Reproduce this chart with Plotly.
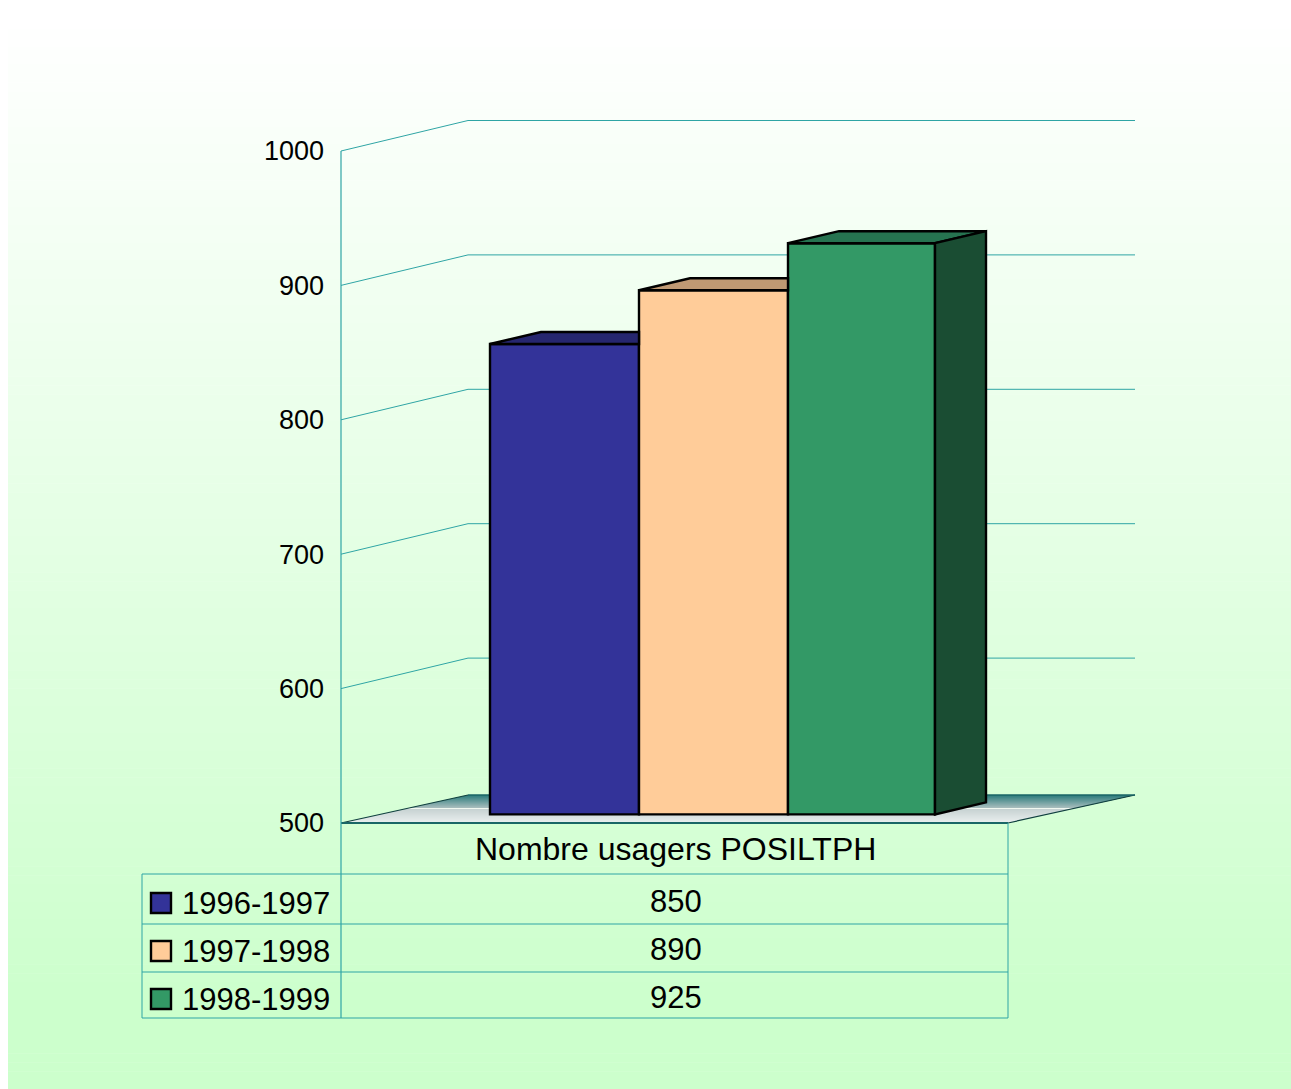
import plotly.graph_objects as go

# ---- data ----
periods = ["1996-1997", "1997-1998", "1998-1999"]
usagers = [850, 890, 925]
category = "Nombre usagers POSILTPH"
tick_values = [500, 600, 700, 800, 900, 1000]
tick_labels = ["500", "600", "700", "800", "900", "1000"]

# ---- styles ----
face = ["#333399", "#FFCC99", "#339966"]
top_face = ["#26266F", "#BF9973", "#267350"]
side_face = "#1A4D33"
TEAL = "#2FA5A5"
EDGE = 2.4
W, H = 1291, 1089

# ---- geometry: x axis runs in page pixels, y axis in data values ----
Y0_PX, Y1_PX = 823.0, 151.0
K = (Y0_PX - Y1_PX) / (tick_values[-1] - tick_values[0])
def val(px):
    return tick_values[0] + (Y0_PX - px) / K

BAR_EDGES = [490, 639, 788, 935]
BAR_LIFT = 8.6 / K        # bars stand a little behind the front edge
DX, DY = 51, 12 / K       # visible depth of a bar

AX_X, BACK_X, END_X, FLOOR_R = 341, 468, 1135, 1008
WALL_DY = 30.5 / K

fig = go.Figure()
shapes = []

def rect_px(x0, x1, y0, y1, color, line=None, lw=0):
    shapes.append(dict(type="rect", layer="below", xref="x", yref="y",
                       x0=x0, x1=x1, y0=val(y0), y1=val(y1), fillcolor=color,
                       line=dict(color=line or color, width=lw)))

def line_px(x0, y0, x1, y1, color=TEAL, w=1):
    shapes.append(dict(type="line", layer="below", xref="x", yref="y",
                       x0=x0, x1=x1, y0=val(y0), y1=val(y1),
                       line=dict(color=color, width=w)))

def mix(a, b, t):
    return "rgb(%d,%d,%d)" % tuple(round(a[i] + (b[i] - a[i]) * t) for i in range(3))

# page background gradient
STEPS = 120
G0 = 20
for i in range(STEPS):
    y0 = G0 + i * (H - G0) / STEPS
    y1 = y0 + (H - G0) / STEPS + 0.5
    rect_px(8, W, y0, y1, mix((255, 255, 255), (204, 255, 204), min(1, (i + .5) / STEPS * 1.08)))

# floor with gradient bands
FB, FF = 795.0, 823.0
N = 28
fx = lambda y: AX_X + (BACK_X - AX_X) * (FF - y) / (FF - FB)
for i in range(N):
    y0 = FB + i * (FF - FB) / N
    y1 = y0 + (FF - FB) / N + 0.4
    t = (y0 - FB) / (FF - FB)
    if t < 0.43:
        c = mix((46, 125, 125), (165, 188, 188), t / 0.43)
    elif t < 0.48:
        c = "rgb(240,248,240)"
    else:
        c = mix((198, 210, 210), (236, 240, 240), (t - .48) / .52)
    shapes.append(dict(type="path", layer="below", xref="x", yref="y",
        path="M%f,%f L%f,%f L%f,%f L%f,%f Z" % (
            fx(y0), val(y0), fx(y0) + END_X - BACK_X, val(y0),
            fx(y1) + END_X - BACK_X, val(y1), fx(y1), val(y1)),
        fillcolor=c, line=dict(width=0)))
line_px(AX_X, FF, BACK_X, FB, "#10403F", 1.2)
line_px(FLOOR_R, FF, END_X, FB, "#10403F", 1.2)
line_px(BACK_X, FB, END_X, FB, "#1A6666", 1.5)
line_px(AX_X, FF, FLOOR_R, FF, "#1A6666", 2)

# walls: grid lines driven by the tick values
for v in tick_values[1:]:
    shapes.append(dict(type="line", layer="below", xref="x", yref="y", x0=AX_X, x1=BACK_X,
                       y0=v, y1=v + WALL_DY, line=dict(color=TEAL, width=1)))
    shapes.append(dict(type="line", layer="below", xref="x", yref="y", x0=BACK_X, x1=END_X,
                       y0=v + WALL_DY, y1=v + WALL_DY, line=dict(color=TEAL, width=1)))

# table frame
T_L, T_TOP, T_BOT = 142, 874, 1018
ROWS = [924, 972]
line_px(AX_X, 151, AX_X, T_BOT, TEAL, 1.2)
line_px(FLOOR_R, FF, FLOOR_R, T_BOT, TEAL, 1)
line_px(T_L, T_TOP, T_L, T_BOT, TEAL, 1)
line_px(T_L, T_TOP, FLOOR_R, T_TOP, TEAL, 1)
line_px(T_L, T_BOT, FLOOR_R, T_BOT, TEAL, 1)
for r in ROWS:
    line_px(T_L, r, FLOOR_R, r, TEAL, 1)

# legend keys + text
ann = []
def text(x, y, s, size, anchor="center"):
    ann.append(dict(x=x, y=val(y), xref="x", yref="y", text=s, showarrow=False,
                    xanchor=anchor, yanchor="middle",
                    font=dict(family="Liberation Sans", size=size, color="#000000")))

ROW_Y = [903, 951, 999]
for i, p in enumerate(periods):
    rect_px(151, 171, ROW_Y[i] - 10, ROW_Y[i] + 10, face[i], "#000000", 2.4)
    text(180, ROW_Y[i], p, 31, "left")
    text(676, ROW_Y[i] - 2, str(usagers[i]), 31)
text(675, 849, category, 32)

# bars, drawn through the axes
for i, p in enumerate(periods):
    x0, x1 = BAR_EDGES[i], BAR_EDGES[i + 1]
    fig.add_trace(go.Bar(x=[(x0 + x1) / 2], y=[usagers[i] - tick_values[0]],
                         base=[tick_values[0] + BAR_LIFT], width=[x1 - x0], name=p,
                         marker=dict(color=face[i], line=dict(color="#000000", width=EDGE)),
                         showlegend=False))

# top faces (hidden part stops at the next bar) and the side face of the last bar
for i, p in enumerate(periods):
    x0, x1 = BAR_EDGES[i], BAR_EDGES[i + 1]
    top = usagers[i] + BAR_LIFT
    last = i == len(periods) - 1
    xr_back = x1 + DX if last else x1
    fig.add_trace(go.Scatter(x=[x0, x0 + DX, xr_back, x1, x0],
                             y=[top, top + DY, top + DY, top, top],
                             mode="lines", fill="toself", fillcolor=top_face[i],
                             line=dict(color="#000000", width=EDGE), hoverinfo="skip",
                             showlegend=False))
x1 = BAR_EDGES[-1]
top = usagers[-1] + BAR_LIFT
base = tick_values[0] + BAR_LIFT
fig.add_trace(go.Scatter(x=[x1, x1 + DX, x1 + DX, x1, x1],
                         y=[top, top + DY, base + DY, base, top],
                         mode="lines", fill="toself", fillcolor=side_face,
                         line=dict(color="#000000", width=EDGE), hoverinfo="skip",
                         showlegend=False))

fig.update_layout(
    width=W, height=H, margin=dict(l=0, r=0, t=0, b=0), autosize=False,
    paper_bgcolor="#FFFFFF", plot_bgcolor="rgba(0,0,0,0)", showlegend=False,
    shapes=shapes, annotations=ann, barmode="overlay",
    xaxis=dict(range=[0, W], domain=[0, 1], visible=False, fixedrange=True),
    yaxis=dict(range=[val(H), val(0)], domain=[0, 1], anchor="free",
               position=AX_X / W, tickmode="array", tickvals=tick_values,
               ticktext=tick_labels, showgrid=False, zeroline=False, showline=False,
               ticks="", ticklabelstandoff=17, fixedrange=True,
               tickfont=dict(family="Liberation Sans", size=27, color="#000000")),
)

fig.write_html("out.html", config=dict(displayModeBar=False),
               post_script="document.body.style.margin='0';")
